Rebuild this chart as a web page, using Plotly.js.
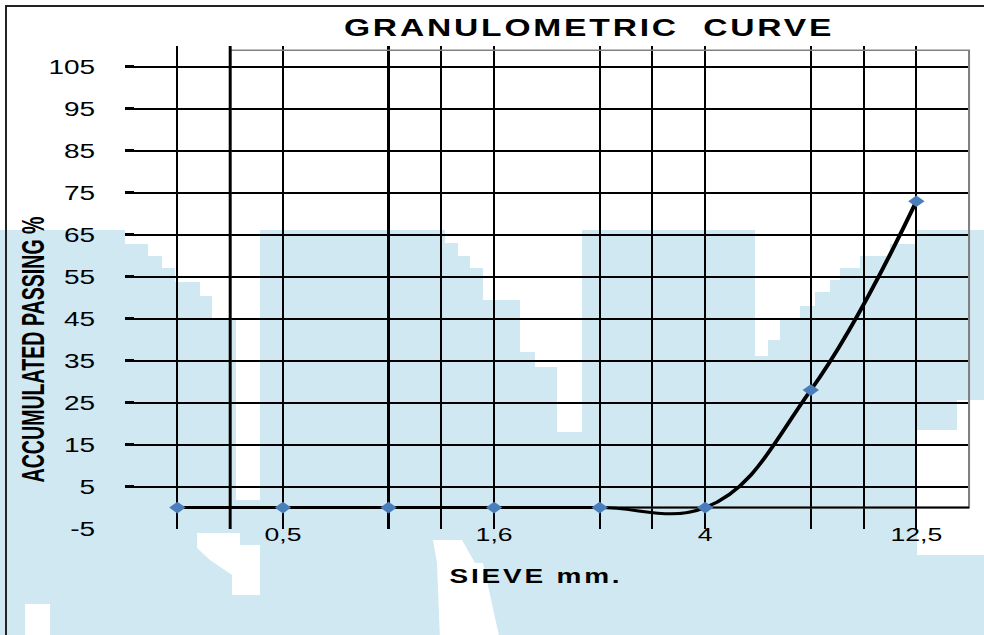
<!DOCTYPE html>
<html><head><meta charset="utf-8">
<script src="https://cdn.plot.ly/plotly-3.0.1.min.js"></script>
<style>
html,body{margin:0;padding:0;background:#fff;overflow:hidden;width:984px;height:635px;}
#chart{position:absolute;left:0;top:0;width:703px;height:635px;transform:scaleX(1.4);transform-origin:0 0;}
#frame{position:absolute;left:5px;top:5px;width:1100px;height:800px;border-left:2px solid #222;border-top:2px solid #222;pointer-events:none;}
#chart .gtitle{letter-spacing:2px;}
#chart g.annotation[data-index="1"] text{letter-spacing:2px;}
</style></head>
<body><div id="chart"></div><div id="frame"></div>
<script>
// ---- data ----
const sieveLabels = ['', '0,5', '', '1,6', '', '4', '', '12,5'];
const passing = [0, 0, 0, 0, 0, 0, 28, 73];
const gridX = [0, 0.5, 1, 2, 2.5, 3, 4, 4.5, 5, 6, 6.5, 7];
const yTicks = [-5, 5, 15, 25, 35, 45, 55, 65, 75, 85, 95, 105];
const yTickText = yTicks.map(String);

// ---- geometry helpers (page is drawn narrow then stretched horizontally) ----
const S = 1.4, W = 703, H = 635;
const M = {l: 89, r: 10, t: 46, b: 106, pad: 0};
const pw = W - M.l - M.r, ph = H - M.t - M.b;
const px = sx => (sx / S - M.l) / pw;
const py = sy => (H - M.b - sy) / ph;

// watermark (light mosaic) approximated: a band with white gaps, in screen px
const holes = [
  [[125,228],[260,228],[260,500],[236,500],[236,320],[212,320],[212,296],[200,296],[200,282],[175,282],[175,268],[162,268],[162,256],[148,256],[148,244],[125,244]],
  [[197,533],[240,533],[240,545],[260,545],[260,595],[232,595],[232,575],[210,560],[197,548]],
  [[25,604],[50,604],[50,640],[25,640]],
  [[445,228],[582,228],[582,432],[557,432],[557,367],[535,367],[535,352],[520,352],[520,300],[483,300],[483,268],[470,268],[470,256],[458,256],[458,243],[445,243]],
  [[755,228],[915,228],[915,244],[890,244],[890,256],[860,256],[860,268],[840,268],[840,280],[830,280],[830,292],[815,292],[815,306],[800,306],[800,320],[780,320],[780,340],[768,340],[768,356],[755,356]],
  [[917,430],[957,430],[957,400],[990,400],[990,555],[917,555]],
  [[433,540],[462,540],[475,563],[483,563],[500,640],[440,640],[437,563]]
];
const toPath = pts => 'M' + pts.map(p => px(p[0]).toFixed(4) + ',' + py(p[1]).toFixed(4)).join(' L') + ' Z';

const shapes = [
  {type:'rect', xref:'paper', yref:'paper', layer:'below', x0:px(-10), x1:px(1000), y0:py(230), y1:py(645),
   fillcolor:'#d0e8f2', line:{width:0}}
].concat(holes.map(h => ({type:'path', xref:'paper', yref:'paper', layer:'below', path:toPath(h),
   fillcolor:'#ffffff', line:{width:0}}))).concat([
  {type:'rect', xref:'x', yref:'y', layer:'between', x0:0.5, x1:7.5, y0:0, y1:109,
   line:{color:'#808080', width:1.6}},
  {type:'line', xref:'x', yref:'y', layer:'between', x0:0.5, x1:0.5, y0:-5.1, y1:110,
   line:{color:'#000', width:2.1}},
  {type:'line', xref:'x', yref:'y', layer:'between', x0:0.5, x1:7.5, y0:0, y1:0,
   line:{color:'#000', width:2}}
]);

const trace = {
  x: passing.map((_, i) => i),
  y: passing,
  type: 'scatter',
  mode: 'lines+markers',
  line: {color: '#000', width: 3, shape: 'spline', smoothing: 1.15},
  marker: {symbol: 'diamond', size: 9, color: '#4a7ebb', line: {width: 0}},
  hoverinfo: 'skip'
};

const layout = {
  width: W, height: H,
  margin: M,
  paper_bgcolor: '#ffffff',
  plot_bgcolor: 'rgba(0,0,0,0)',
  showlegend: false,
  font: {family: 'Liberation Sans, Arial, sans-serif', color: '#000'},
  title: {text: 'GRANULOMETRIC&nbsp; CURVE', xref: 'container', yref: 'container',
          x: 0.5985, xanchor: 'center', y: 1 - 28 / H, yanchor: 'middle',
          font: {size: 24, weight: 'bold', color: '#000'}},
  xaxis: {
    range: [-0.5, 7.51], tickmode: 'array', tickvals: gridX,
    ticktext: gridX.map(v => Number.isInteger(v) ? sieveLabels[v] : ''),
    showgrid: true, gridcolor: '#000', gridwidth: 1.5,
    zeroline: false, showline: false, ticks: '',
    tickfont: {size: 19, color: '#000'}, ticklabelstandoff: -8
  },
  yaxis: {
    range: [-5.1, 110], tickmode: 'array', tickvals: yTicks, ticktext: yTickText,
    showgrid: true, gridcolor: '#000', gridwidth: 2.2,
    zeroline: false, showline: false,
    ticks: 'inside', ticklen: 6.5, tickwidth: 3, tickcolor: '#000',
    tickfont: {size: 20, color: '#000'}, ticklabelstandoff: 20
  },
  shapes: shapes,
  annotations: [
    {text: 'ACCUMULATED PASSING %', xref: 'paper', yref: 'paper', x: px(33), y: py(350),
     xanchor: 'center', yanchor: 'middle', textangle: -90, showarrow: false,
     font: {family: 'Liberation Sans, Arial, sans-serif', size: 23, weight: 'bold', color: '#000'}},
    {text: 'SIEVE mm.', xref: 'paper', yref: 'paper', x: px(536), y: py(576),
     xanchor: 'center', yanchor: 'middle', showarrow: false,
     font: {size: 20, weight: 'bold', color: '#000'}}
  ]
};

Plotly.newPlot('chart', [trace], layout, {staticPlot: true, displayModeBar: false}).then(gd => {
  // the reference's vertical title is condensed: fit it to its measured length
  const t = gd.querySelector('g.annotation[data-index="0"] text');
  if (t) {
    t.setAttribute('textLength', '266');
    t.setAttribute('lengthAdjust', 'spacingAndGlyphs');
  }
});
</script>
</body></html>
